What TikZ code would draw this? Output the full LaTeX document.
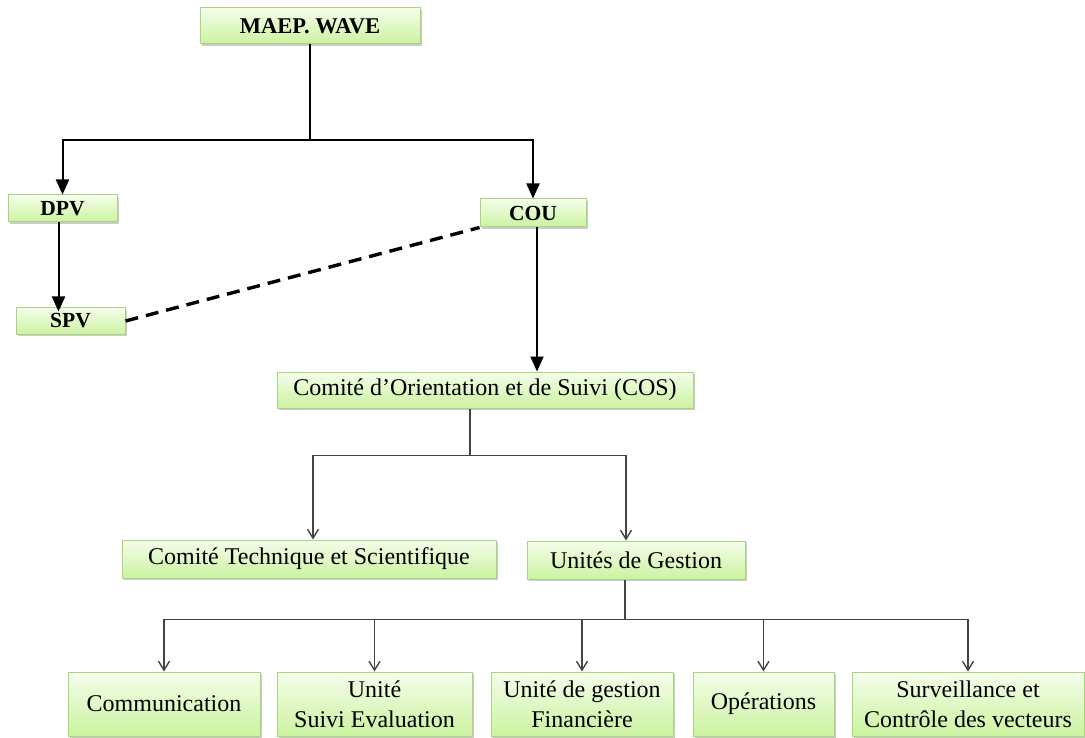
\documentclass[tikz,border=0pt]{standalone}
\usepackage{fontspec}
\setmainfont{Liberation Serif}
\usetikzlibrary{arrows.meta,shadows}
\definecolor{boxtop}{HTML}{F5FDEB}
\definecolor{boxbottom}{HTML}{CBF3A0}
\definecolor{boxline}{HTML}{A9D57C}
\definecolor{lowgray}{HTML}{444444}

\begin{document}
\begin{tikzpicture}[%
x=1pt, y=-1pt,
unitbox/.style={draw=boxline, line width=1pt, top color=boxtop, bottom color=boxbottom,
  drop shadow={opacity=0.4, shadow xshift=1.5pt, shadow yshift=-2pt},
  inner sep=2pt, align=center, font=\fontsize{24}{30}\selectfont},
headbox/.style={unitbox, font=\fontsize{21.5}{25}\selectfont\bfseries},
toparrow/.style={black, line width=2pt, -{Triangle[length=15pt,width=13pt]}},
topline/.style={black, line width=2pt},
lowarrow/.style={lowgray, line width=1.4pt, -{Straight Barb[length=9pt,width=11pt]}},
lowline/.style={lowgray, line width=1.4pt},
]
\useasboundingbox (0,0) rectangle (1085,738);
%% head boxes;
\node[headbox, minimum width=220pt, minimum height=36pt, font=\fontsize{22.5}{26}\selectfont\bfseries] (maep) at (310,26) {MAEP. WAVE};
\node[headbox, minimum width=109pt, minimum height=27pt] (dpv) at (62.5,208.5) {DPV};
\node[headbox, minimum width=106pt, minimum height=28pt] (cou) at (533,213) {COU};
\node[headbox, minimum width=109pt, minimum height=26pt] (spv) at (70.5,321) {SPV};
%% committees;
\node[unitbox, minimum width=416pt, minimum height=36pt] (cos) at (485,390) {Comité d’Orientation et de Suivi (COS)};
\node[unitbox, minimum width=374pt, minimum height=38pt] (cts) at (309,559) {Comité Technique et Scientifique};
\node[unitbox, minimum width=218pt, minimum height=38pt] (ug) at (636,560) {Unités de Gestion};
%% units;
\node[unitbox, minimum width=192pt, minimum height=64pt] (comm) at (164,704) {Communication};
\node[unitbox, minimum width=195pt, minimum height=64pt] (suivi) at (374.5,704) {Unité\\Suivi Evaluation};
\node[unitbox, minimum width=182pt, minimum height=64pt] (fin) at (582,704) {Unité de gestion\\Financière};
\node[unitbox, minimum width=141pt, minimum height=64pt] (ops) at (763.5,704) {Opérations};
\node[unitbox, minimum width=232pt, minimum height=64pt] (surv) at (968,704) {Surveillance et\\Contrôle des vecteurs};
%% top links;
\draw[topline] (maep.south) -- ++(0,96) coordinate (split1);
\draw[toparrow] (split1) -| (dpv.north);
\draw[toparrow] (split1) -| (cou.north);
\draw[toparrow] ([xshift=-4pt]dpv.south) -- ([xshift=-4pt,yshift=-4pt]dpv.south |- spv.north);
\draw[toparrow] ([xshift=4pt]cou.south) -- ([xshift=4pt]cou.south |- cos.north);
\draw[black, line width=3.4pt, dash pattern=on 13pt off 8pt] (spv.east) -- (cou.south west);
%% committee links;
\draw[lowline] ([xshift=-15pt]cos.south) -- ++(0,47) coordinate (split2);
\draw[lowarrow] (split2) -| ([xshift=4pt]cts.north);
\draw[lowarrow] (split2) -| ([xshift=-10pt]ug.north);
%% unit links;
\draw[lowline] ([xshift=-11pt]ug.south) -- ++(0,40) coordinate (split3);
\foreach \unit in {comm,suivi,fin,ops,surv}
  \draw[lowarrow] (split3) -| (\unit.north);
\end{tikzpicture}
\end{document}
